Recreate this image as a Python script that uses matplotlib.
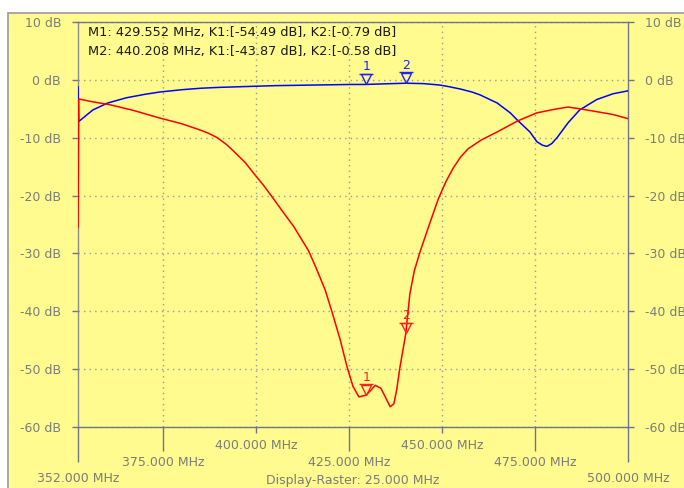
import matplotlib
matplotlib.use('Agg')
import matplotlib.pyplot as plt
from matplotlib.patches import Rectangle
from matplotlib.ticker import FixedLocator
from matplotlib.transforms import offset_copy

# trace K2 (blue)
k2_freq = [352.0, 352.2, 356, 360, 365, 370, 374, 380, 385, 390, 395, 400, 405,
           410, 415, 420, 425, 429.55, 435, 440.2, 445, 449.4, 452, 455, 458,
           460.2, 464.8, 468.3, 470.3, 473.6, 475.5, 477, 478.2, 479.5, 480.9,
           483.9, 487, 491.6, 496, 500]
k2_db = [-1.2, -7.2, -5.2, -4.0, -3.1, -2.5, -2.1, -1.7, -1.45, -1.3, -1.2, -1.1,
         -1.0, -0.95, -0.9, -0.85, -0.8, -0.79, -0.68, -0.58, -0.65, -0.9, -1.2,
         -1.6, -2.1, -2.6, -4.0, -5.7, -7.0, -9.0, -10.7, -11.3, -11.5, -11.0,
         -10.0, -7.4, -5.2, -3.4, -2.4, -1.9]

# trace K1 (red)
k1_freq = [352.0, 352.2, 356, 360.6, 367, 374, 380, 385, 387, 389.5, 392, 394,
           397, 399.6, 402, 404.2, 407, 410, 412, 414, 416, 418.5, 420.3, 422.5,
           424.4, 426, 427.6, 429.55, 431, 432, 433.5, 435, 436, 437, 437.8,
           438.6, 440.2, 441.3, 442.5, 444, 446.7, 449, 451, 453, 455, 457,
           460.5, 464.8, 470.3, 475.5, 480.9, 483.9, 487, 491.6, 496, 500]
k1_db = [-25.5, -3.3, -3.8, -4.3, -5.3, -6.6, -7.6, -8.7, -9.2, -10.0, -11.2,
         -12.4, -14.3, -16.4, -18.3, -20.2, -22.7, -25.3, -27.4, -29.5, -32.4,
         -36.3, -40.0, -44.8, -49.6, -53.0, -54.8, -54.49, -53.5, -52.8, -53.3,
         -55.2, -56.5, -56.0, -53.4, -49.8, -43.87, -37.0, -33.0, -29.8, -24.7,
         -20.5, -17.6, -15.2, -13.3, -11.9, -10.4, -9.0, -7.1, -5.7, -5.0, -4.7,
         -5.0, -5.5, -6.0, -6.7]

# markers
marker_freq = [429.552, 440.208]
marker_k1 = [-54.49, -43.87]
marker_k2 = [-0.79, -0.58]
marker_names = ['1', '2']

y_ticks = [10, 0, -10, -20, -30, -40, -50, -60]
x_major = [375, 425, 475]
x_minor = [400, 450]
x_ends = [352, 500]

bg = '#FFFB8E'
axis_col = '#72728f'
label_col = '#7c7c7c'
font = 'DejaVu Sans'
fs = 9.0

fig = plt.figure(figsize=(6.84, 4.88), dpi=100)
fig.patch.set_facecolor('white')
fig.patches.append(Rectangle((8 / 684, -0.05), 1.1, 475 / 488 + 0.05,
                             transform=fig.transFigure, facecolor=bg,
                             edgecolor='#9a9a9a', linewidth=1.2, zorder=-10))

ax = fig.add_axes([78 / 684, 61 / 488, 550 / 684, 405 / 488])
ax.set_facecolor(bg)
ax.set_xlim(352, 500)
ax.set_ylim(-60, 10)

for side in ['left', 'right', 'top', 'bottom']:
    ax.spines[side].set_color(axis_col)
    ax.spines[side].set_linewidth(1.0)
ax.spines['left'].set_color('#8c8c8c')

# y axis, both sides
ax.set_yticks(y_ticks, [f'{v} dB' for v in y_ticks])
ax.tick_params(axis='y', left=True, right=True, labelleft=True, labelright=True,
               length=4.4, width=1.0, color=axis_col, labelcolor=label_col,
               labelsize=fs, pad=7.8)
for t in ax.yaxis.get_major_ticks():
    t.tick1line.set_color('#8c8c8c')

# x axis, two staggered rows of labels
ax.xaxis.set_major_locator(FixedLocator(x_major))
ax.xaxis.set_minor_locator(FixedLocator(x_minor))
ax.set_xticklabels([f'{v:.3f} MHz' for v in x_major])
ax.set_xticklabels([f'{v:.3f} MHz' for v in x_minor], minor=True)
ax.tick_params(axis='x', which='major', length=17.3, width=1.0, color=axis_col,
               labelcolor=label_col, labelsize=fs, pad=3.6)
ax.tick_params(axis='x', which='minor', length=4.4, width=1.0, color=axis_col,
               labelcolor=label_col, labelsize=fs, pad=4.2)

sec = ax.secondary_xaxis('bottom')
sec.set_xticks(x_ends, [f'{v:.3f} MHz' for v in x_ends])
sec.spines['bottom'].set_visible(False)
sec.tick_params(length=25.2, width=1.0, color=axis_col, labelcolor=label_col,
                labelsize=fs, pad=7.5)
sec.xaxis.get_major_ticks()[0].tick1line.set_color('#8c8c8c')

for lab in ax.get_xticklabels(which='both') + sec.get_xticklabels():
    lab.set_fontfamily(font)
for t in ax.yaxis.get_major_ticks():
    t.label1.set_fontfamily(font)
    t.label2.set_fontfamily(font)

ax.grid(True, axis='x', which='both', color='#9a9a9a', linestyle=(0, (1, 3)), linewidth=1.0)
ax.grid(True, axis='y', which='major', color='#9a9a9a', linestyle=(0, (1, 3)), linewidth=1.0)

ax.text(0.5, -0.131, 'Display-Raster: 25.000 MHz', transform=ax.transAxes,
        ha='center', va='center', color=label_col, fontsize=fs, family=font)

# traces
ax.plot(k2_freq, k2_db, color='#0000ff', linewidth=1.1, zorder=3)
ax.plot(k1_freq, k1_db, color='#ff0000', linewidth=1.1, zorder=4)

# marker triangles: tip touches the trace
ms = 7.5
tri_tr = offset_copy(ax.transData, fig=fig, x=0, y=ms / 2, units='points')
bar_tr = offset_copy(ax.transData, fig=fig, x=0, y=ms + 0.3, units='points')
for vals, col in [(marker_k2, '#2020ff'), (marker_k1, '#ff2020')]:
    ax.plot(marker_freq, vals, linestyle='none', marker='v', markersize=ms,
            markerfacecolor='none', markeredgecolor=col, markeredgewidth=1.0,
            transform=tri_tr, zorder=6, clip_on=False)
    ax.plot(marker_freq, vals, linestyle='none', marker='_', markersize=ms + 2,
            markeredgecolor=col, markeredgewidth=1.0,
            transform=bar_tr, zorder=6, clip_on=False)
    for f, v, name in zip(marker_freq, vals, marker_names):
        ax.annotate(name, (f, v), xytext=(0, ms + 5.5), textcoords='offset points',
                    ha='center', va='center', color=col, fontsize=fs, family=font,
                    zorder=6)

hs = 9.3
ax.text(0.018, 0.973,
        f'M1: {marker_freq[0]:.3f} MHz, K1:[{marker_k1[0]:.2f} dB], K2:[{marker_k2[0]:.2f} dB]',
        transform=ax.transAxes, ha='left', va='center', color='#1a1a1a',
        fontsize=hs, family=font)
ax.text(0.018, 0.928,
        f'M2: {marker_freq[1]:.3f} MHz, K1:[{marker_k1[1]:.2f} dB], K2:[{marker_k2[1]:.2f} dB]',
        transform=ax.transAxes, ha='left', va='center', color='#1a1a1a',
        fontsize=hs, family=font)

fig.savefig('out.png', dpi=100, facecolor=fig.get_facecolor())
